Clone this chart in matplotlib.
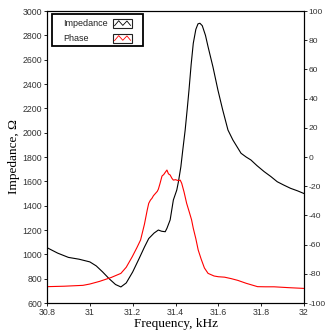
import matplotlib.pyplot as plt
from matplotlib.patches import Rectangle

plt.rcParams['axes.unicode_minus'] = False

# impedance curve
imp_freq = [30.80, 30.85, 30.90, 30.95, 31.00, 31.03, 31.06, 31.09, 31.12, 31.145,
            31.17, 31.20, 31.23, 31.255, 31.275, 31.30, 31.32, 31.335, 31.352, 31.36,
            31.375, 31.39, 31.406, 31.414, 31.425, 31.434, 31.445, 31.455, 31.463, 31.473,
            31.483, 31.495, 31.505, 31.514, 31.525, 31.54, 31.552, 31.575, 31.598, 31.62,
            31.645, 31.668, 31.706, 31.73, 31.752, 31.78, 31.814, 31.845, 31.875, 31.905,
            31.937, 31.97, 32.00]
imp_vals = [1055, 1010, 975, 960, 938, 905, 855, 800, 752, 732,
            765, 855, 965, 1060, 1130, 1175, 1200, 1190, 1186, 1214,
            1283, 1447, 1529, 1600, 1720, 1858, 2020, 2200, 2351, 2560,
            2735, 2850, 2895, 2900, 2880, 2800, 2707, 2540, 2351, 2190,
            2022, 1940, 1831, 1800, 1776, 1730, 1680, 1640, 1597, 1570,
            1543, 1522, 1500]

# phase curve
ph_freq = [30.80, 30.88, 30.968, 31.00, 31.045, 31.10, 31.145, 31.17, 31.198, 31.22,
           31.237, 31.255, 31.268, 31.275, 31.283, 31.29, 31.297, 31.306, 31.315, 31.32,
           31.327, 31.337, 31.345, 31.352, 31.36, 31.367, 31.375, 31.383, 31.39, 31.40,
           31.414, 31.422, 31.429, 31.44, 31.452, 31.465, 31.475, 31.483, 31.495, 31.506,
           31.52, 31.535, 31.552, 31.58, 31.60, 31.629, 31.66, 31.691, 31.73, 31.783,
           31.82, 31.86, 31.93, 32.00]
ph_vals = [-88.8, -88.5, -87.9, -87.0, -85.2, -82.5, -79.7, -75.5, -68.3, -62.0,
           -56.8, -46.0, -36.3, -31.7, -29.5, -28.3, -26.5, -25.0, -23.5, -22.0,
           -18.5, -13.0, -12.0, -10.5, -8.9, -11.5, -12.3, -14.5, -15.8, -15.5,
           -16.2, -15.8, -18.0, -24.0, -31.7, -38.0, -43.0, -48.8, -56.0, -63.7,
           -70.0, -76.0, -79.7, -81.5, -82.0, -82.3, -83.3, -84.5, -86.5, -88.8,
           -88.9, -88.9, -89.5, -90.0]

x_ticks = [30.8, 31.0, 31.2, 31.4, 31.6, 31.8, 32.0]
x_ticklabels = ["30.8", "31", "31.2", "31.4", "31.6", "31.8", "32"]
legend_labels = ["Impedance", "Phase"]
legend_colors = ["black", "red"]

fig = plt.figure(figsize=(3.27, 3.36), dpi=100)
ax = fig.add_axes([0.1437, 0.0982, 0.7860, 0.8688])
ax2 = ax.twinx()

ax.plot(imp_freq, imp_vals, color="black", lw=0.8)
ax2.plot(ph_freq, ph_vals, color="red", lw=0.8)

ax.set_xlim(30.8, 32.0)
ax.set_ylim(600, 3000)
ax2.set_ylim(-100, 100)
ax.set_xticks(x_ticks)
ax.set_xticklabels(x_ticklabels)
ax.set_yticks(range(600, 3001, 200))
ax2.set_yticks(range(-100, 101, 20))

for a in (ax, ax2):
    a.tick_params(labelsize=6.3, labelcolor="#333333", length=2.5, width=0.6, pad=1.0,
                  labelfontfamily="Liberation Sans")
    for s in a.spines.values():
        s.set_linewidth(0.8)
ax2.tick_params(labelsize=6.1, pad=0.7)

ax.set_xlabel("Frequency, kHz", family="Liberation Serif", fontsize=9.5, labelpad=1)
ax.set_ylabel("Impedance, \u03a9", family="Liberation Serif", fontsize=9.5, labelpad=2)

# legend drawn by hand: labels on the left, framed zigzag swatches on the right
ax2.add_patch(Rectangle((0.019, 0.88), 0.355, 0.11, transform=ax2.transAxes,
                        facecolor="white", edgecolor="black", lw=1.3, zorder=5,
                        clip_on=False))
row_y = [0.958, 0.907]
for lab, col, yc in zip(legend_labels, legend_colors, row_y):
    ax2.text(0.062, yc, lab, transform=ax2.transAxes, fontsize=6.5, color="#222222",
             va="center", ha="left", zorder=6, family="Liberation Sans")
    ax2.add_patch(Rectangle((0.257, yc - 0.015), 0.074, 0.03, transform=ax2.transAxes,
                            fill=False, edgecolor="#222222", lw=0.8, zorder=6))
    zx = [0.263, 0.279, 0.295, 0.311, 0.325]
    zy = [yc - 0.008, yc + 0.009, yc - 0.007, yc + 0.008, yc - 0.007]
    ax2.plot(zx, zy, color=col, lw=0.6, transform=ax2.transAxes, zorder=6)

fig.savefig("out.png", dpi=100)
